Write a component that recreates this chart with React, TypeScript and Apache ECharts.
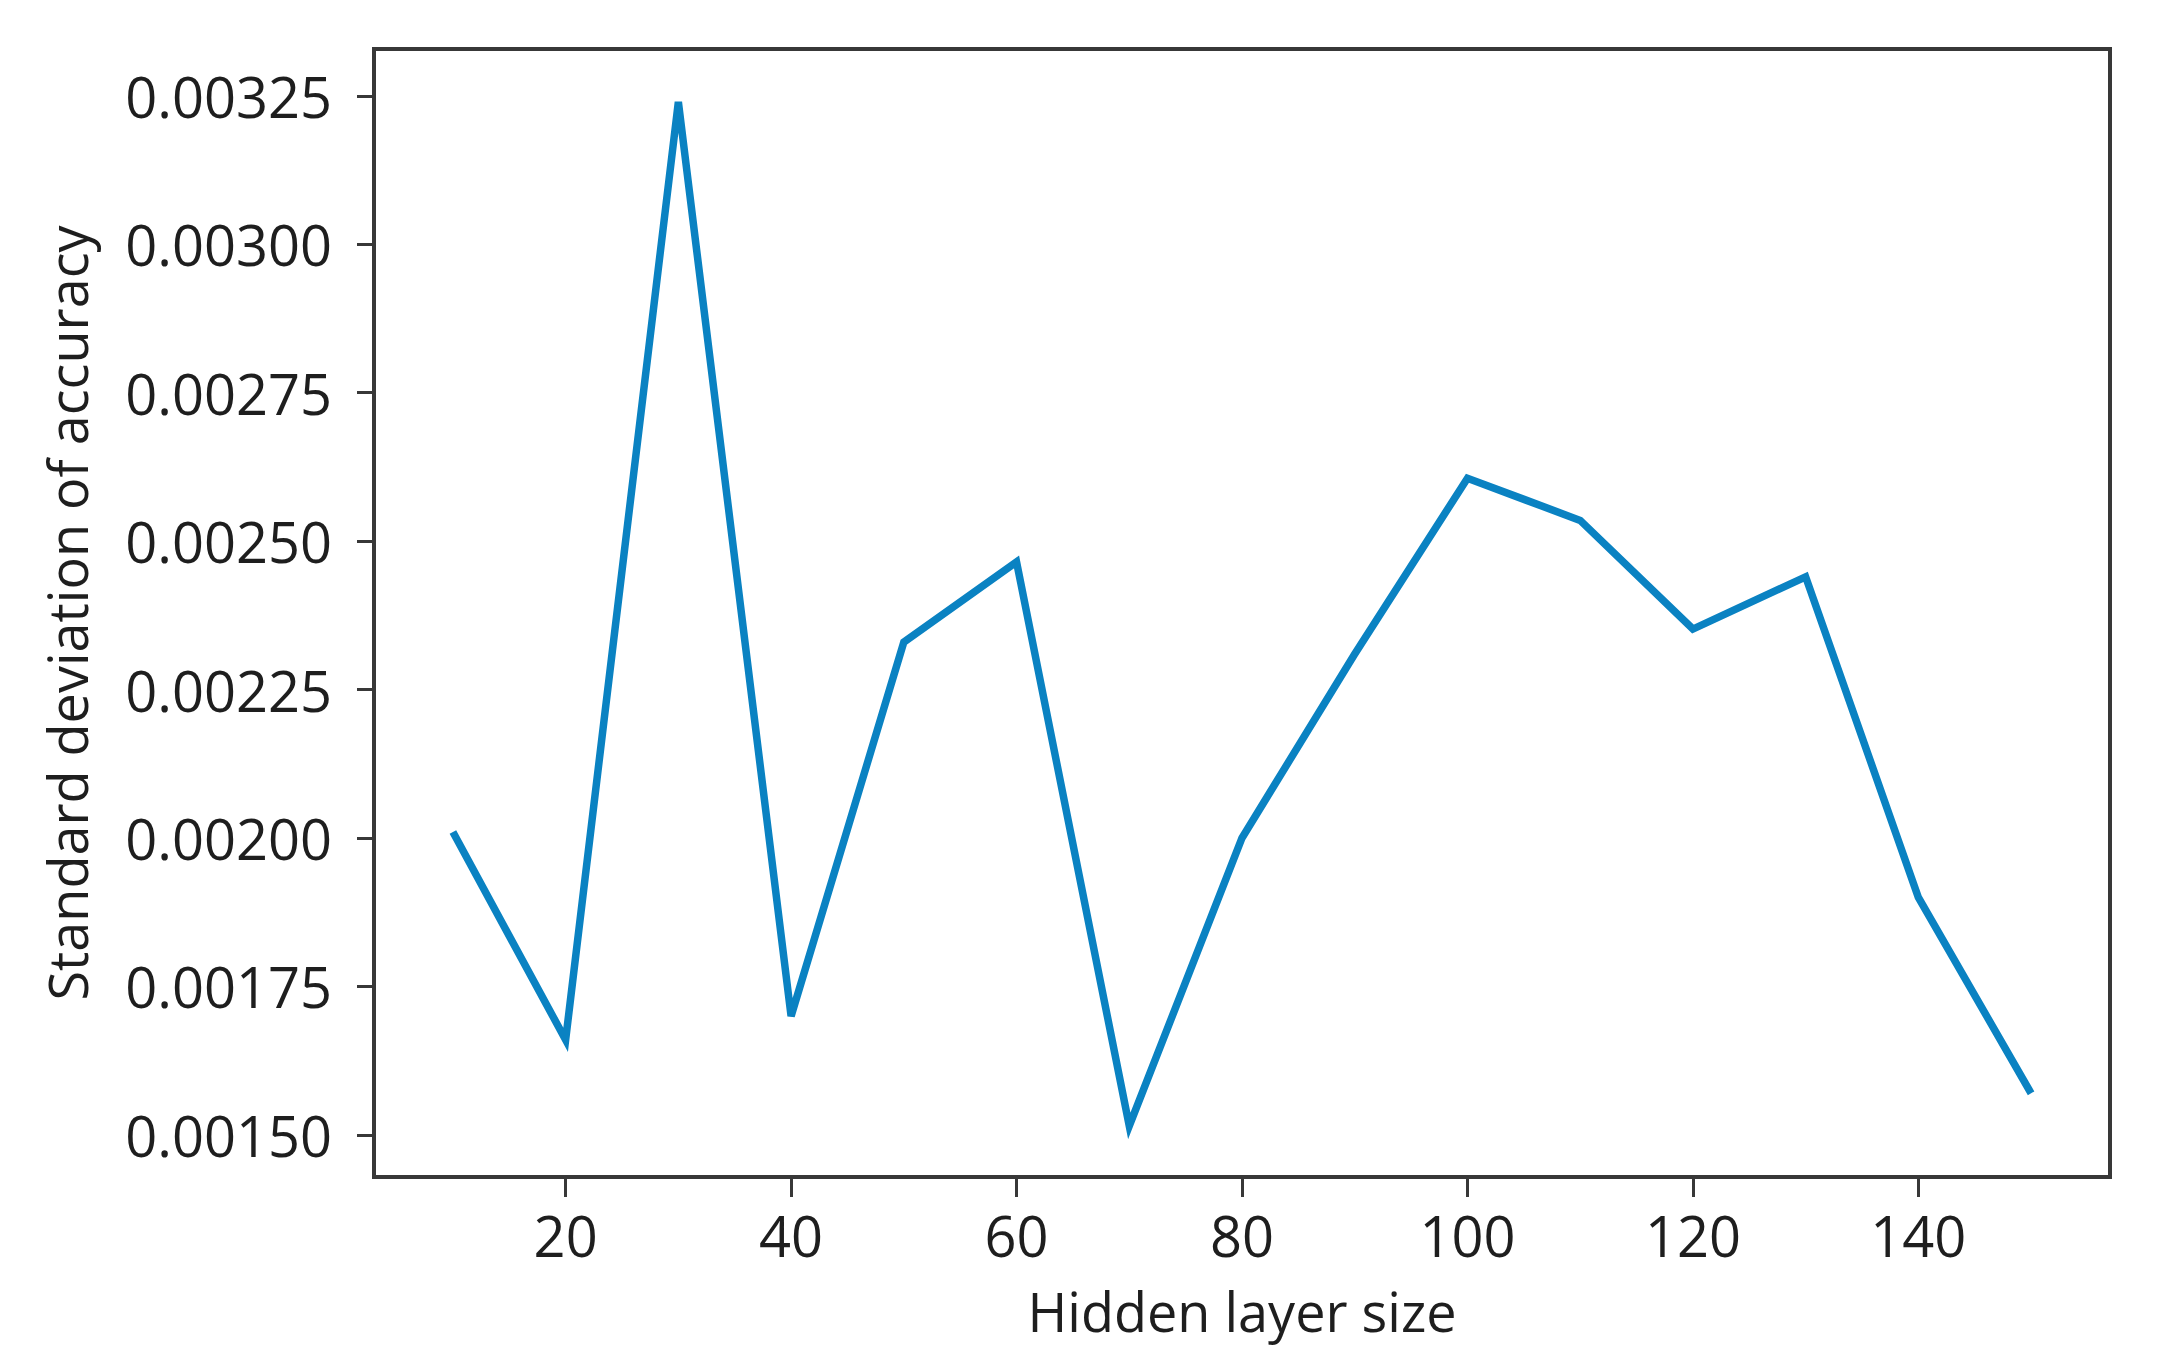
import React, { useEffect, useRef } from "react";
import * as echarts from "echarts";

const hiddenSizes = [10, 20, 30, 40, 50, 60, 70, 80, 90, 100, 110, 120, 130, 140, 150];
const stdAccuracy = [
  0.00201, 0.00166, 0.00324, 0.0017, 0.00233, 0.002465, 0.001515, 0.002, 0.00231,
  0.002606, 0.002535, 0.002352, 0.00244, 0.0019, 0.00157,
];
const xTicks = [20, 40, 60, 80, 100, 120, 140];
const yTicks = [0.0015, 0.00175, 0.002, 0.00225, 0.0025, 0.00275, 0.003, 0.00325];
const xLimits = [3, 157];
const yLimits = [0.001429, 0.003329];

const FONT = "Open Sans";

export default function App() {
  const ref = useRef<HTMLDivElement>(null);
  useEffect(() => {
    if (!ref.current) return;
    const chart = echarts.init(ref.current, null, { renderer: "svg" });
    const axisColor = "#383838";
    chart.setOption({
      animation: false,
      backgroundColor: "#ffffff",
      grid: {
        left: 374,
        right: 51,
        top: 49,
        bottom: 187,
        show: true,
        borderColor: axisColor,
        borderWidth: 4,
        backgroundColor: "transparent",
      },
      xAxis: {
        type: "value",
        min: xLimits[0],
        max: xLimits[1],
        name: "Hidden layer size",
        nameLocation: "middle",
        nameGap: 107,
        nameTextStyle: { fontFamily: FONT, fontSize: 54, color: "#1e1e1e" },
        axisLine: { show: false },
        splitLine: { show: false },
        axisTick: {
          show: true,
          length: 20,
          lineStyle: { color: axisColor, width: 3 },
          customValues: xTicks,
        },
        axisLabel: {
          fontFamily: FONT,
          fontSize: 56,
          color: "#1e1e1e",
          margin: 30,
          customValues: xTicks,
          formatter: (v: number) => String(v),
        },
      },
      yAxis: {
        type: "value",
        min: yLimits[0],
        max: yLimits[1],
        name: "Standard deviation of accuracy",
        nameLocation: "middle",
        nameGap: 280,
        nameTextStyle: { fontFamily: FONT, fontSize: 54, color: "#1e1e1e" },
        axisLine: { show: false },
        splitLine: { show: false },
        axisTick: {
          show: true,
          length: 17,
          lineStyle: { color: axisColor, width: 3 },
          customValues: yTicks,
        },
        axisLabel: {
          fontFamily: FONT,
          fontSize: 56,
          color: "#1e1e1e",
          margin: 42,
          customValues: yTicks,
          formatter: (v: number) => v.toFixed(5),
        },
      },
      series: [
        {
          type: "line",
          data: hiddenSizes.map((x, i) => [x, stdAccuracy[i]]),
          showSymbol: false,
          symbol: "none",
          lineStyle: { color: "#0a82c2", width: 7.5, join: "miter" },
        },
      ],
    });
    return () => chart.dispose();
  }, []);
  return (
    <div
      ref={ref}
      style={{ position: "fixed", left: 0, top: 0, width: 2161, height: 1364 }}
    />
  );
}
